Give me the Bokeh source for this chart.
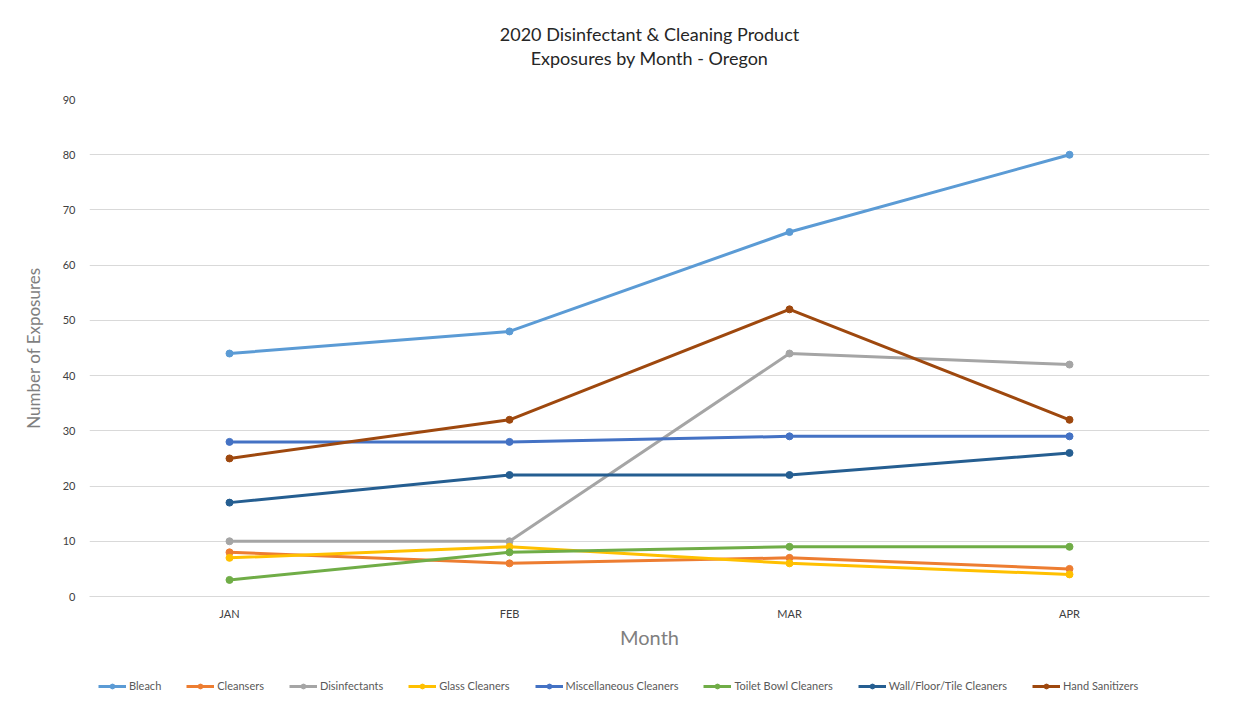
from bokeh.plotting import figure
from bokeh.layouts import column
from bokeh.models import FactorRange, Range1d, Legend, LegendItem, Title, ColumnDataSource
from bokeh.embed import file_html
from bokeh.resources import INLINE

months = ["JAN", "FEB", "MAR", "APR"]
bleach = [44, 48, 66, 80]
cleansers = [8, 6, 7, 5]
disinfectants = [10, 10, 44, 42]
glass_cleaners = [7, 9, 6, 4]
misc_cleaners = [28, 28, 29, 29]
toilet_bowl = [3, 8, 9, 9]
wall_floor_tile = [17, 22, 22, 26]
hand_sanitizers = [25, 32, 52, 32]

series = [
    ("Bleach", bleach, "#5B9BD5"),
    ("Cleansers", cleansers, "#ED7D31"),
    ("Disinfectants", disinfectants, "#A5A5A5"),
    ("Glass Cleaners", glass_cleaners, "#FFC000"),
    ("Miscellaneous Cleaners", misc_cleaners, "#4472C4"),
    ("Toilet Bowl Cleaners", toilet_bowl, "#70AD47"),
    ("Wall/Floor/Tile Cleaners", wall_floor_tile, "#255E91"),
    ("Hand Sanitizers", hand_sanitizers, "#9E480E"),
]

FONT = "Lato"

p = figure(width=1234, height=664, x_range=FactorRange(*months, range_padding=0),
           y_range=Range1d(0, 90), output_backend="svg", toolbar_location=None,
           min_border_left=89, min_border_right=25, min_border_top=99, min_border_bottom=68)
p.outline_line_color = None
p.background_fill_color = "white"
p.border_fill_color = "white"

# spacer between title and plot area
p.add_layout(Title(text=" ", text_font=FONT, text_font_size="24px", standoff=0), "above")
p.add_layout(Title(text="Exposures by Month - Oregon", align="center", text_font=FONT,
                   text_font_size="18px", text_font_style="normal", text_color="#262626",
                   standoff=0), "above")
p.add_layout(Title(text="2020 Disinfectant & Cleaning Product", align="center", text_font=FONT,
                   text_font_size="18px", text_font_style="normal", text_color="#262626",
                   standoff=0), "above")

p.ygrid.grid_line_color = "#d9d9d9"
p.ygrid.grid_line_width = 1
p.xgrid.grid_line_color = None
p.yaxis.ticker = list(range(0, 91, 10))
p.yaxis.axis_line_color = None
p.yaxis.major_tick_line_color = None
p.yaxis.minor_tick_line_color = None
p.yaxis.major_label_text_font = FONT
p.yaxis.major_label_text_font_size = "11px"
p.yaxis.major_label_text_color = "#404040"
p.yaxis.major_label_standoff = 8
p.yaxis.axis_label = "Number of Exposures"
p.yaxis.axis_label_text_font = FONT
p.yaxis.axis_label_text_font_size = "17px"
p.yaxis.axis_label_text_font_style = "normal"
p.yaxis.axis_label_text_color = "#7f7f7f"
p.yaxis.axis_label_standoff = 16

p.xaxis.axis_line_color = "#d9d9d9"
p.xaxis.major_tick_line_color = None
p.xaxis.minor_tick_line_color = None
p.xaxis.major_label_text_font = FONT
p.xaxis.major_label_text_font_size = "11px"
p.xaxis.major_label_text_color = "#404040"
p.xaxis.major_label_standoff = 4
p.xaxis.axis_label = "Month"
p.xaxis.axis_label_text_font = FONT
p.xaxis.axis_label_text_font_size = "20px"
p.xaxis.axis_label_text_font_style = "normal"
p.xaxis.axis_label_text_color = "#7f7f7f"
p.xaxis.axis_label_standoff = 2

# legend strip below the chart (same series, drawn out of its visible range)
lg = figure(width=1234, height=30, x_range=FactorRange(*months, range_padding=0),
            y_range=Range1d(1000, 1001), output_backend="svg", toolbar_location=None,
            min_border_left=0, min_border_right=0, min_border_top=0, min_border_bottom=0)
lg.axis.visible = False
lg.grid.grid_line_color = None
lg.outline_line_color = None
lg.background_fill_color = "white"
lg.border_fill_color = "white"

items = []
for name, vals, color in series:
    src = ColumnDataSource(dict(x=months, y=vals))
    p.line("x", "y", source=src, line_color=color, line_width=3)
    p.scatter("x", "y", source=src, size=7, fill_color=color, line_color=color)
    l = lg.line("x", "y", source=src, line_color=color, line_width=3)
    s = lg.scatter("x", "y", source=src, size=7, fill_color=color, line_color=color)
    items.append(LegendItem(label=name, renderers=[l, s]))

legend = Legend(items=items, orientation="horizontal", location=(9, 2),
                label_text_font=FONT, label_text_font_size="11px", label_text_color="#595959",
                glyph_width=28, glyph_height=12, spacing=25, label_standoff=3,
                label_height=12, border_line_color=None, background_fill_alpha=0,
                margin=0, padding=4)
lg.add_layout(legend, "center")

open("out.html", "w").write(file_html(column(p, lg, spacing=0), INLINE))
